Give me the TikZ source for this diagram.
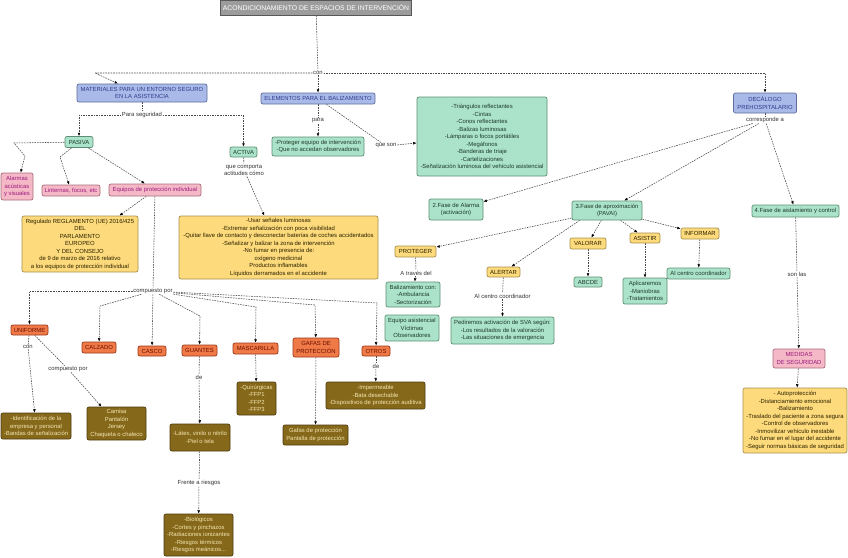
\documentclass[tikz,border=0pt]{standalone}
\usepackage{fontspec}
\setmainfont{Liberation Sans}
\usetikzlibrary{arrows.meta,backgrounds}

\definecolor{bluefill}{HTML}{A9B9E8}
\definecolor{blueline}{HTML}{5F6E9E}
\definecolor{bluetext}{HTML}{2F3E8F}
\definecolor{greenfill}{HTML}{AAE3C9}
\definecolor{greenline}{HTML}{5E8E72}
\definecolor{greentext}{HTML}{1E3A26}
\definecolor{pinkfill}{HTML}{F5B8C7}
\definecolor{pinkline}{HTML}{A86C7C}
\definecolor{pinktext}{HTML}{9B1C7E}
\definecolor{yellowfill}{HTML}{FDDA7B}
\definecolor{yellowline}{HTML}{A8904A}
\definecolor{yellowtext}{HTML}{2B2100}
\definecolor{orangefill}{HTML}{F07A47}
\definecolor{orangeline}{HTML}{9A3A1A}
\definecolor{orangetext}{HTML}{6A0E00}
\definecolor{brownfill}{HTML}{86681B}
\definecolor{brownline}{HTML}{4E3C0E}
\definecolor{browntext}{HTML}{F3E7B0}
\definecolor{titlefill}{HTML}{9C9C9C}
\definecolor{titleline}{HTML}{585858}
\definecolor{linkcol}{HTML}{484848}

\begin{document}
\begin{tikzpicture}[x=1pt,y=-1pt,
    font=\fontsize{5.9}{7.5}\selectfont,
    box/.style={draw,rounded corners=2pt,line width=0.7pt,align=center,inner xsep=2pt,inner ysep=1.5pt},
    sz/.style 2 args={minimum width=#1pt,minimum height=#2pt},
    titlebox/.style={box,fill=titlefill,draw=titleline,text=white,line width=1pt,rounded corners=0pt,font=\fontsize{6.8}{8}\selectfont},
    bluebox/.style={box,fill=bluefill,draw=blueline,text=bluetext},
    greenbox/.style={box,fill=greenfill,draw=greenline,text=greentext},
    pinkbox/.style={box,fill=pinkfill,draw=pinkline,text=pinktext},
    yellowbox/.style={box,fill=yellowfill,draw=yellowline,text=yellowtext},
    orangebox/.style={box,fill=orangefill,draw=orangeline,text=orangetext},
    brownbox/.style={box,fill=brownfill,draw=brownline,text=browntext},
    lbl/.style={fill=white,inner sep=0.6pt,text=black!80,align=center},
    link/.style={draw=linkcol,line width=0.55pt,dash pattern=on 1.6pt off 1pt},
    arr/.style={link,-{Latex[length=3.4pt,width=2.8pt,color=black]}}]
    \useasboundingbox (0,0) rectangle (848,557);

    % top
    \node[titlebox,sz={190}{15}] (title) at (316,7.5) {ACONDICIONAMIENTO DE ESPACIOS DE INTERVENCIÓN};
    \node[lbl] (con) at (318,73) {con};
    \coordinate (conL) at (95,73);
    \coordinate (conR) at (765,73);
    \node[bluebox,sz={130}{18}] (mat) at (142,93) {MATERIALES PARA UN ENTORNO SEGURO\\EN LA ASISTENCIA};
    \node[bluebox,sz={114}{11}] (elem) at (318,98.5) {ELEMENTOS PARA EL BALIZAMIENTO};
    \node[bluebox,sz={63}{20}] (dec) at (765,103) {DECÁLOGO\\PREHOSPITALARIO};

    % materiales
    \node[lbl] (paraseg) at (142,115) {Para seguridad};
    \node[greenbox,sz={28}{11}] (pas) at (79,142) {PASIVA};
    \node[greenbox,sz={27}{10}] (act) at (243.5,152) {ACTIVA};
    \node[lbl] (actL) at (244,170) {que comporta\\actitudes cómo};
    \coordinate (pasA) at (14,143);
    \coordinate (pasB) at (25,156);
    \coordinate (pasC) at (60,157);
    \node[pinkbox,sz={32}{27}] (alarm) at (17,186.5) {Alarmas\\acústicas\\y visuales};
    \node[pinkbox,sz={58}{11}] (lint) at (71,190.5) {Linternas, focos, etc};
    \node[pinkbox,sz={92}{12}] (epi) at (155,190) {Equipos de protección individual};
    \node[yellowbox,sz={116}{56}] (reg) at (80,244) {Regulado REGLAMENTO (UE) 2016/425\\DEL\\PARLAMENTO\\EUROPEO\\Y DEL CONSEJO\\de 9 de marzo de 2016 relativo\\a los equipos de protección individual};
    \node[yellowbox,sz={199}{63}] (actB) at (278.5,247.5) {-Usar señales luminosas\\-Extremar señalización con poca visibilidad\\-Quitar llave de contacto y desconectar baterías de coches accidentados\\-Señalizar y balizar la zona de intervención\\-No fumar en presencia de:\\oxígeno medicinal\\Productos inflamables\\Líquidos derramados en el accidente};

    % balizamiento
    \node[lbl] (para) at (318,121) {para};
    \node[greenbox,sz={92}{19}] (prot) at (318,146.5) {-Proteger equipo de intervención\\-Que no accedan observadores};
    \node[lbl] (queson) at (386,146) {que son};
    \node[greenbox,sz={130}{79}] (tri) at (482,136.5) {-Triángulos reflectantes\\-Cintas\\-Conos reflectantes\\-Balizas luminosas\\-Lámparas o focos portátiles\\-Megáfonos\\-Banderas de triaje\\-Cartelizaciones\\-Señalización luminosa del vehículo asistencial};

    % decalogo
    \node[lbl] (corr) at (765,120) {corresponde a};
    \node[greenbox,sz={54}{21}] (fase2) at (456,209.5) {2.Fase de Alarma\\(activación)};
    \node[greenbox,sz={70}{19}] (fase3) at (607,210.5) {3.Fase de aproximación\\(PAVAI)};
    \node[greenbox,sz={87}{12}] (fase4) at (795.5,211) {4.Fase de aislamiento y control};
    \node[yellowbox,sz={41}{11}] (proteger) at (415.5,251.5) {PROTEGER};
    \node[lbl] (atraves) at (416,273) {A través del};
    \node[greenbox,sz={54}{25}] (baliz) at (413,294.5) {Balizamiento con:\\-Ambulancia\\-Sectorización};
    \node[greenbox,sz={54}{26}] (equipo) at (412,328) {Equipo asistencial\\Víctimas\\Observadores};
    \node[yellowbox,sz={33}{10}] (alertar) at (503.5,272) {ALERTAR};
    \node[lbl] (alcc) at (502.5,296) {Al centro coordinador};
    \node[greenbox,sz={103}{27}] (pedir) at (502.5,330.5) {Pediremos activación de SVA según:\\-Los resultados de la valoración\\-Las situaciones de emergencia};
    \node[yellowbox,sz={36}{11}] (valorar) at (588,243.5) {VALORAR};
    \node[greenbox,sz={28}{10}] (abcde) at (588,282) {ABCDE};
    \node[yellowbox,sz={30}{10}] (asistir) at (645,238) {ASISTIR};
    \node[greenbox,sz={44}{26}] (aplic) at (645,291) {Aplicaremos\\-Maniobras\\-Tratamientos};
    \node[yellowbox,sz={38}{11}] (informar) at (700,233.5) {INFORMAR};
    \node[greenbox,sz={63}{11}] (alcentro) at (698.5,273.5) {Al centro coordinador};
    \node[lbl] (sonlas) at (797,274) {son las};
    \node[pinkbox,sz={52}{19}] (medidas) at (799,358.5) {MEDIDAS\\DE SEGURIDAD};
    \node[yellowbox,sz={104}{65}] (autop) at (795,420.5) {- Autoprotección\\-Distanciamiento emocional\\-Balizamiento\\-Traslado del paciente a zona segura\\-Control de observadores\\-Inmovilizar vehículo inestable\\-No fumar en el lugar del accidente\\-Seguir normas básicas de seguridad};

    % equipos de proteccion
    \node[lbl] (cp) at (153,291) {compuesto por};
    \coordinate (kCalz) at (100,306);
    \coordinate (kGuan) at (200,316);
    \coordinate (kMasc) at (256,307);
    \coordinate (kGafas) at (315,305);
    \coordinate (kOtros) at (377,303);
    \node[orangebox,sz={37}{10}] (uni) at (29.5,330) {UNIFORME};
    \node[orangebox,sz={34}{11}] (calz) at (99,347.5) {CALZADO};
    \node[orangebox,sz={28}{10}] (casco) at (152,351) {CASCO};
    \node[orangebox,sz={35}{11}] (guan) at (199.5,350.5) {GUANTES};
    \node[orangebox,sz={45}{11}] (masc) at (255.5,348.5) {MASCARILLA};
    \node[orangebox,sz={46}{19}] (gafas) at (316,347.5) {GAFAS DE\\PROTECCIÓN};
    \node[orangebox,sz={28}{10}] (otros) at (376,351) {OTROS};
    \node[lbl] (unicon) at (28,347) {con};
    \node[lbl] (unicp) at (68,369) {compuesto por};
    \node[brownbox,sz={70}{26}] (ident) at (36,426) {-Identificación de la\\empresa y personal\\-Bandas de señalización};
    \node[brownbox,sz={59}{33}] (camisa) at (116.5,423.5) {Camisa\\Pantalón\\Jersey\\Chaqueta o chaleco};
    \node[lbl] (guande) at (199,377) {de};
    \node[brownbox,sz={60}{27}] (latex) at (200,437.5) {-Látex, vinilo o nitrilo\\-Piel o tela};
    \node[lbl] (frente) at (199,483) {Frente a riesgos};
    \node[brownbox,sz={69}{42}] (bio) at (198.5,535) {-Biológicos\\-Cortes y pinchazos\\-Radiaciones ionizantes\\-Riesgos térmicos\\-Riesgos meánicos...};
    \node[brownbox,sz={39}{33}] (quir) at (256.5,398.5) {-Quirúrgicas\\-FFP1\\-FFP2\\-FFP3};
    \node[brownbox,sz={65}{20}] (gafasB) at (315.5,435) {Gafas de protección\\Pantalla de protección};
    \node[lbl] (otde) at (376,366) {de};
    \node[brownbox,sz={99}{27}] (imper) at (375.5,395.5) {-Impermeable\\-Bata desechable\\-Dispositivos de protección auditiva};

    \begin{pgfonlayer}{background}
        \draw[link] (title) -- (con);
        \draw[arr] (con) -- (elem);
        \draw[arr] (con) -- (conL) -- ([xshift=-24pt]mat.north);
        \draw[arr] (con) -- (conR) -- (dec);

        \draw[link] (mat) -- (paraseg);
        \draw[arr] (paraseg) -| (pas);
        \draw[arr] (paraseg) -| (act);
        \draw[arr] (pas) -- (pasA) -- (pasB) -- (alarm);
        \draw[arr] (pas) -- (pasC) -- (lint);
        \draw[arr] (pas) -- (epi);
        \draw[arr] (epi) -- (reg);
        \draw[link] (epi) -- (cp);
        \draw[link] (act) -- (actL);
        \draw[arr] (actL) -- (actB);

        \draw[link] (elem) -- (para);
        \draw[arr] (para) -- (prot);
        \draw[link] (elem) -- (queson);
        \draw[arr] (queson) -- (tri);

        \draw[link] (dec) -- (corr);
        \draw[arr] (corr) -- (fase2);
        \draw[arr] (corr) -- (fase3);
        \draw[arr] (corr) -- (fase4);
        \draw[arr] (fase3) -- (proteger);
        \draw[arr] ([xshift=8pt]fase3.south west) -- (alertar);
        \draw[arr] (fase3) -- (valorar);
        \draw[arr] (fase3) -- (asistir);
        \draw[arr] (fase3) -- (informar);
        \draw[link] (proteger) -- (atraves);
        \draw[arr] (atraves) -- (baliz);
        \draw[link] (alertar) -- (alcc);
        \draw[arr] (alcc) -- (pedir);
        \draw[arr] (valorar) -- (abcde);
        \draw[arr] (asistir) -- (aplic);
        \draw[arr] (informar) -- (alcentro);
        \draw[link] (fase4) -- (sonlas);
        \draw[arr] (sonlas) -- (medidas);
        \draw[arr] (medidas) -- (autop);

        \draw[arr] (cp) -| (uni);
        \draw[arr] (cp) -- (kCalz) -- (calz);
        \draw[arr] (cp) -- (casco);
        \draw[arr] (cp) -- (kGuan) -- (guan);
        \draw[arr] (cp) -- (kMasc) -- (masc);
        \draw[arr] (cp) -- (kGafas) -- (gafas);
        \draw[arr] (cp) -- (kOtros) -- (otros);
        \draw[link] (uni) -- (unicon);
        \draw[arr] (unicon) -- (ident);
        \draw[link] (uni) -- (unicp);
        \draw[arr] (unicp) -- (camisa);
        \draw[link] (guan) -- (guande);
        \draw[arr] (guande) -- (latex);
        \draw[link] (latex) -- (frente);
        \draw[arr] (frente) -- (bio);
        \draw[arr] (masc) -- (quir);
        \draw[arr] (gafas) -- (gafasB);
        \draw[link] (otros) -- (otde);
        \draw[arr] (otde) -- (imper);
    \end{pgfonlayer}
\end{tikzpicture}
\end{document}
